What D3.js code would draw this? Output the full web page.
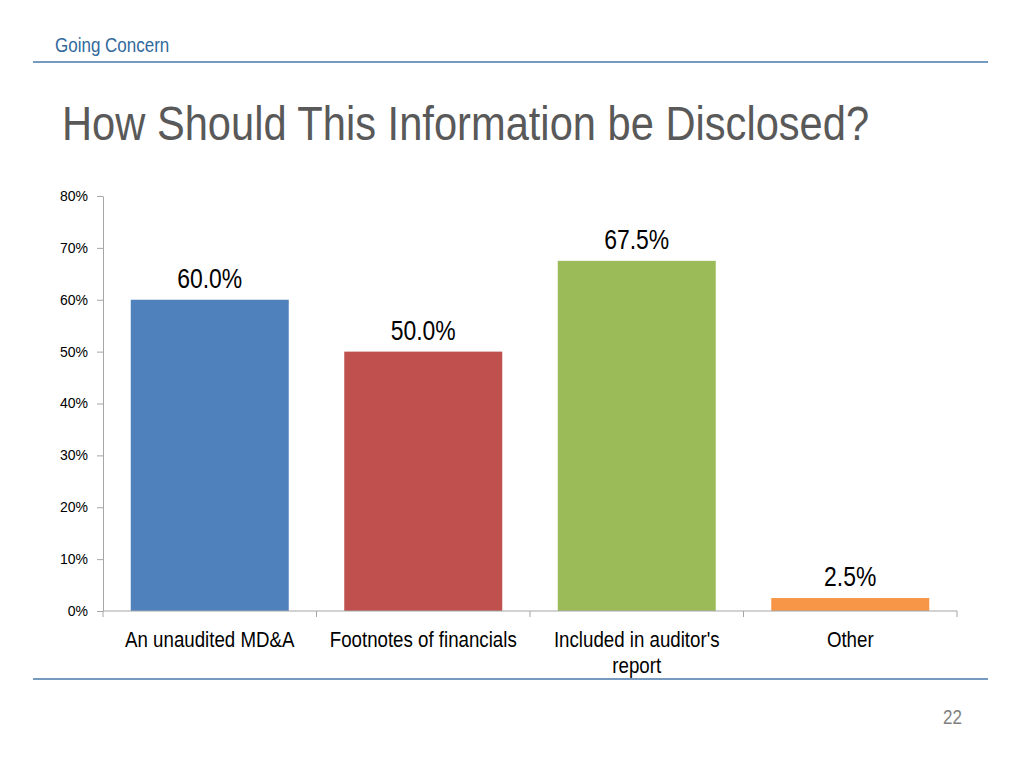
<!DOCTYPE html>
<html>
<head>
<meta charset="utf-8">
<script src="https://cdn.jsdelivr.net/npm/d3@7"></script>
<style>
  html, body { margin: 0; padding: 0; background: #fff; }
  svg { display: block; font-family: "Liberation Sans", Arial, sans-serif; }
</style>
</head>
<body>
<svg id="chart" width="1024" height="768"></svg>
<script>
const categories = ["An unaudited MD&A", "Footnotes of financials", "Included in auditor's report", "Other"];
const values = [60.0, 50.0, 67.5, 2.5];
const barColors = ["#4f81bd", "#c0504d", "#9bbb59", "#f79646"];
const yTicks = [0, 10, 20, 30, 40, 50, 60, 70, 80];
const headerText = "Going Concern";
const titleText = "How Should This Information be Disclosed?";
const pageNumber = "22";

const svg = d3.select("#chart");
const SX = 0.85;

function scaledText(g, x, y, txt, size, color, anchor) {
  return g.append("text")
    .attr("transform", `translate(${x},${y}) scale(${SX},1)`)
    .attr("text-anchor", anchor || "start")
    .attr("font-size", size)
    .attr("fill", color)
    .text(txt);
}

// Header
scaledText(svg, 55, 51.5, headerText, 20, "#31699c");
svg.append("line").attr("x1", 33).attr("x2", 988).attr("y1", 62).attr("y2", 62)
  .attr("stroke", "#4a7aab").attr("stroke-width", 1.5);
scaledText(svg, 62, 140, titleText, 49, "#595959");
svg.append("line").attr("x1", 33).attr("x2", 988).attr("y1", 679).attr("y2", 679)
  .attr("stroke", "#4a7aab").attr("stroke-width", 1.5);
scaledText(svg, 962, 724, pageNumber, 20, "#808080", "end");

// Chart
const x0 = 103, x1 = 957, yTop = 196, yBot = 611;
const x = d3.scaleBand().domain(categories).range([x0, x1]).paddingInner(0.26).paddingOuter(0.13);
const y = d3.scaleLinear().domain([0, 80]).range([yBot, yTop]);
const axisColor = "#a6a6a6";

// y axis
const yAxis = svg.append("g").attr("transform", `translate(${x0},0)`)
  .call(d3.axisLeft(y).tickValues(yTicks).tickFormat(d => d + "%").tickSize(6).tickSizeOuter(0));
yAxis.selectAll("path, line").attr("stroke", axisColor);
yAxis.selectAll("text").attr("font-size", 14).attr("fill", "#000")
  .attr("font-family", "Liberation Sans, Arial, sans-serif").attr("x", -15);

// bars
svg.append("g").selectAll("rect").data(values).join("rect")
  .attr("x", (d, i) => x(categories[i]))
  .attr("width", x.bandwidth())
  .attr("y", d => y(d))
  .attr("height", d => yBot - y(d))
  .attr("fill", (d, i) => barColors[i]);

// x axis
const step = x.step();
svg.append("line").attr("x1", x0).attr("x2", x1).attr("y1", yBot).attr("y2", yBot).attr("stroke", axisColor);
const boundaries = d3.range(categories.length + 1).map(i => x0 + i * step);
svg.append("g").selectAll("line").data(boundaries).join("line")
  .attr("x1", d => d).attr("x2", d => d).attr("y1", yBot).attr("y2", yBot + 6).attr("stroke", axisColor);

// value labels
const lblG = svg.append("g");
values.forEach((v, i) => {
  scaledText(lblG, x(categories[i]) + x.bandwidth() / 2, y(v) - 12, v.toFixed(1) + "%", 27, "#000", "middle");
});

// category labels with wrapping
const catG = svg.append("g");
categories.forEach((c, i) => {
  const cx = x(categories[i]) + x.bandwidth() / 2;
  const words = c.split(" ");
  const lines = [];
  let cur = [];
  const probe = catG.append("text").attr("font-size", 22);
  words.forEach(w => {
    const test = cur.concat([w]).join(" ");
    probe.text(test);
    if (probe.node().getComputedTextLength() * SX > 200 && cur.length) {
      lines.push(cur.join(" "));
      cur = [w];
    } else cur.push(w);
  });
  lines.push(cur.join(" "));
  probe.remove();
  lines.forEach((ln, j) => scaledText(catG, cx, 647 + j * 26, ln, 22, "#000", "middle"));
});
</script>
</body>
</html>
